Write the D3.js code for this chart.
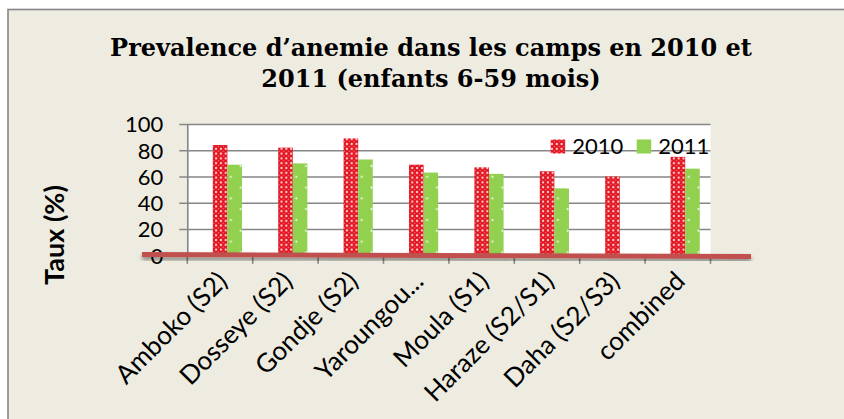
<!DOCTYPE html>
<html>
<head>
<meta charset="utf-8">
<script src="https://cdn.jsdelivr.net/npm/d3@7"></script>
<style>
  html, body { margin: 0; padding: 0; background: #ffffff; }
  svg { display: block; }
</style>
</head>
<body>
<div id="chart"></div>
<script>
const categories = ["Amboko (S2)", "Dosseye (S2)", "Gondje (S2)", "Yaroungou...", "Moula (S1)", "Haraze (S2/S1)", "Daha (S2/S3)", "combined"];
const series = ["2010", "2011"];
const values2010 = [84, 82, 89, 69, 67, 64, 60, 75];
const values2011 = [69, 70, 73, 63, 62, 51, null, 66];
const yTicks = [0, 20, 40, 60, 80, 100];
const titleLines = ["Prevalence d\u2019anemie dans les camps en 2010 et", "2011 (enfants 6-59 mois)"];
const yTitle = "Taux (%)";

const width = 844;
const height = 419;
const plot = { left: 187.3, right: 710.5, top: 124, bottom: 255.3 };
const red = "#e2101c";
const green = "#92d050";
const gridColor = "#868686";
const labelFont = "Lato, 'Open Sans', sans-serif";

const svg = d3.select("#chart").append("svg")
    .attr("width", width)
    .attr("height", height);

const defs = svg.append("defs");

// red fill with a light dot grid
const redPat = defs.append("pattern")
    .attr("id", "redPat")
    .attr("patternUnits", "userSpaceOnUse")
    .attr("width", 4.8)
    .attr("height", 4.8);
redPat.append("rect").attr("width", 4.8).attr("height", 4.8).attr("fill", red);
[[0, 0], [4.8, 0], [0, 4.8], [4.8, 4.8]].forEach(p => {
    redPat.append("circle")
        .attr("cx", p[0]).attr("cy", p[1]).attr("r", 1.2)
        .attr("fill", "#ffe4e4").attr("opacity", 0.9);
});
redPat.append("circle")
    .attr("cx", 2.4).attr("cy", 2.4).attr("r", 0.8)
    .attr("fill", "#ffffff").attr("opacity", 0.45);

// green with sparse dots
const greenPat = defs.append("pattern")
    .attr("id", "greenPat")
    .attr("patternUnits", "userSpaceOnUse")
    .attr("width", 19.6)
    .attr("height", 21.6);
greenPat.append("rect").attr("width", 19.6).attr("height", 21.6).attr("fill", green);
[[4.4, 4], [14.2, 14.8]].forEach(p => {
    greenPat.append("circle")
        .attr("cx", p[0]).attr("cy", p[1]).attr("r", 1.1)
        .attr("fill", "#ffffff").attr("opacity", 0.85);
});

const shadow = defs.append("filter")
    .attr("id", "shadow")
    .attr("x", "-5%").attr("y", "-200%")
    .attr("width", "110%").attr("height", "500%");
shadow.append("feDropShadow")
    .attr("dx", 0).attr("dy", 3)
    .attr("stdDeviation", 2)
    .attr("flood-color", "#000000")
    .attr("flood-opacity", 0.45);

// chart area
svg.append("rect")
    .attr("x", 8)
    .attr("y", 9.5)
    .attr("width", 900)
    .attr("height", 500)
    .attr("fill", "#eeece1")
    .attr("stroke", gridColor)
    .attr("stroke-width", 1.6);

// title
svg.append("g").selectAll("text")
    .data(titleLines)
    .join("text")
    .attr("x", 431)
    .attr("y", (d, i) => 55.5 + i * 31.5)
    .attr("text-anchor", "middle")
    .attr("font-family", "'DejaVu Serif', serif")
    .attr("font-weight", "bold")
    .attr("font-size", 24)
    .attr("fill", "#000000")
    .text(d => d);

const x = d3.scaleBand()
    .domain(categories)
    .range([plot.left, plot.right]);
const bw = x.bandwidth();
const x1 = d3.scaleBand()
    .domain(series)
    .range([0.39 * bw, 0.836 * bw]);
const y = d3.scaleLinear()
    .domain([0, 100])
    .range([plot.bottom, plot.top]);

// plot area
svg.append("rect")
    .attr("x", plot.left)
    .attr("y", plot.top)
    .attr("width", plot.right - plot.left)
    .attr("height", plot.bottom - plot.top)
    .attr("fill", "#ffffff");

// y axis with gridlines
const yAxis = svg.append("g")
    .attr("transform", `translate(${plot.left},0)`)
    .call(d3.axisLeft(y).tickValues(yTicks).tickSizeInner(-(plot.right - plot.left)).tickSizeOuter(0).tickPadding(24));
yAxis.select(".domain").attr("stroke", gridColor).attr("stroke-width", 1.6);
yAxis.selectAll(".tick line")
    .attr("x1", -8)
    .attr("stroke", gridColor)
    .attr("stroke-width", 1.6);
yAxis.selectAll(".tick text")
    .attr("font-family", labelFont)
    .attr("font-size", 22)
    .attr("fill", "#000000")
    .attr("dy", "0.36em");

// x axis ticks at category boundaries
const xAxis = svg.append("g")
    .attr("transform", `translate(0,${plot.bottom})`);
xAxis.selectAll("line")
    .data(categories.concat([null]))
    .join("line")
    .attr("x1", (d, i) => i < categories.length ? x(d) : x(categories[i - 1]) + bw)
    .attr("x2", (d, i) => i < categories.length ? x(d) : x(categories[i - 1]) + bw)
    .attr("y1", 0)
    .attr("y2", 8.5)
    .attr("stroke", gridColor)
    .attr("stroke-width", 1.6);

xAxis.selectAll("text")
    .data(categories)
    .join("text")
    .attr("transform", d => `translate(${x(d) + bw / 2 - 5},${269 - plot.bottom}) rotate(-45)`)
    .attr("text-anchor", "end")
    .attr("dy", "0.75em")
    .attr("font-family", labelFont)
    .attr("font-size", 26)
    .attr("fill", "#000000")
    .text(d => d);

// bars
const rows = categories.map((c, i) => ({ cat: c, vals: [values2010[i], values2011[i]] }));
const groups = svg.append("g").selectAll("g")
    .data(rows)
    .join("g")
    .attr("transform", d => `translate(${x(d.cat)},0)`);
groups.selectAll("rect")
    .data(d => d.vals.map((v, j) => ({ s: series[j], v: v })).filter(e => e.v != null))
    .join("rect")
    .attr("x", d => x1(d.s))
    .attr("width", x1.bandwidth())
    .attr("y", d => y(d.v))
    .attr("height", d => y(0) - y(d.v))
    .attr("fill", d => d.s === "2010" ? "url(#redPat)" : "url(#greenPat)");

// legend
const legend = svg.append("g");
const legendX = [550.7, 636.7];
series.forEach((s, i) => {
    legend.append("rect")
        .attr("x", legendX[i])
        .attr("y", 139.5)
        .attr("width", 14.5)
        .attr("height", 14)
        .attr("fill", i === 0 ? "url(#redPat)" : green);
    legend.append("text")
        .attr("x", legendX[i] + 21.5)
        .attr("y", 154)
        .attr("font-family", labelFont)
        .attr("font-size", 22)
        .attr("fill", "#000000")
        .text(s);
});

// y title
svg.append("text")
    .attr("transform", "translate(64,235) rotate(-90)")
    .attr("text-anchor", "middle")
    .attr("font-family", labelFont)
    .attr("font-weight", "bold")
    .attr("font-size", 27)
    .attr("fill", "#000000")
    .text(yTitle);

// red baseline stroke drawn over the axis
svg.append("line")
    .attr("x1", 142)
    .attr("y1", 254.5)
    .attr("x2", 751)
    .attr("y2", 256.5)
    .attr("stroke", "#c0504d")
    .attr("stroke-width", 4.8)
    .attr("filter", "url(#shadow)");
</script>
</body>
</html>
